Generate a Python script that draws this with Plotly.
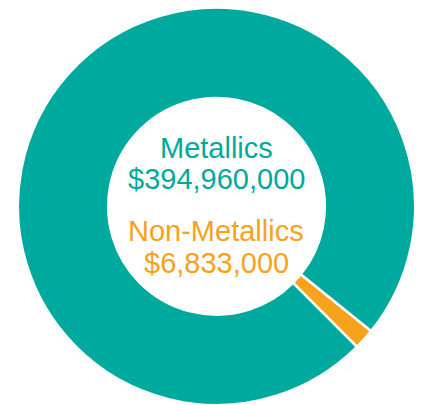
import plotly.graph_objects as go

# Spending by material type
categories = ["Non-Metallics", "Metallics"]
values = [6833000, 394960000]
colors = ["#F7A21B", "#00A99D"]

fig = go.Figure(
    go.Pie(
        labels=categories,
        values=values,
        sort=False,
        direction="clockwise",
        rotation=128.9,
        hole=0.545,
        marker=dict(colors=colors, line=dict(color="white", width=2.5)),
        textinfo="none",
        hoverinfo="label+value",
        showlegend=False,
        domain=dict(x=[0.0415, 0.9846], y=[0.0, 0.981]),
    )
)

font_family = "Liberation Sans, Arial, sans-serif"
center_lines = [
    (categories[1], colors[1], 0.634),
    (f"${values[1]:,}", colors[1], 0.559),
    (categories[0], colors[0], 0.430),
    (f"${values[0]:,}", colors[0], 0.351),
]
for text, color, y in center_lines:
    fig.add_annotation(
        text=text,
        x=0.513,
        y=y,
        xref="paper",
        yref="paper",
        showarrow=False,
        xanchor="center",
        yanchor="middle",
        font=dict(family=font_family, size=29, color=color),
    )

fig.update_layout(
    width=422,
    height=405,
    margin=dict(l=0, r=0, t=0, b=0),
    paper_bgcolor="white",
    plot_bgcolor="white",
)

fig.write_html("out.html")
